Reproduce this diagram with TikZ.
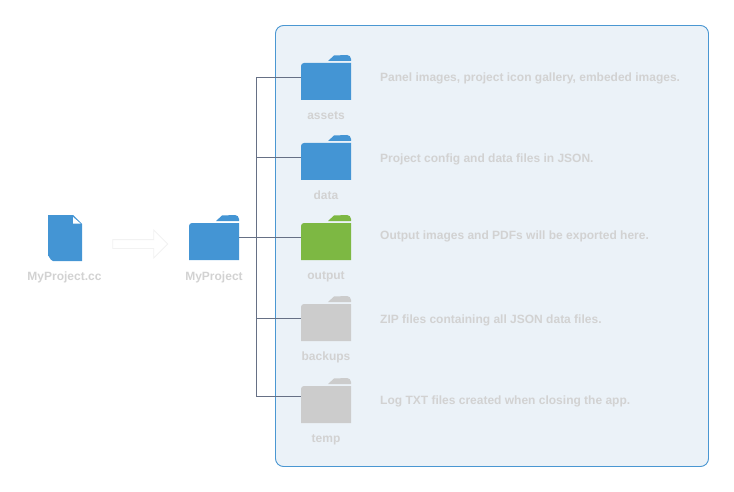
\documentclass[tikz,border=0pt]{standalone}
\usepackage{fontspec}
\setmainfont{Liberation Sans}
\usetikzlibrary{shapes.arrows}
\definecolor{iconblue}{HTML}{4495D4}
\definecolor{icongreen}{HTML}{7DB843}
\definecolor{icongray}{HTML}{CCCCCC}
\definecolor{panelfill}{HTML}{EBF2F8}
\definecolor{panelline}{HTML}{4A97D2}
\definecolor{wirecolor}{HTML}{667085}
\definecolor{labelgray}{HTML}{D2D2D2}
\tikzset{
  x=1pt,y=-1pt,
  caption/.style={font=\bfseries\fontsize{12}{14}\selectfont,text=labelgray,inner sep=0pt,anchor=base},
  note/.style={caption,anchor=base west},
  slot/.style={minimum width=50pt,minimum height=20pt,inner sep=0pt,outer sep=0pt},
  wire/.style={draw=wirecolor,line width=0.8pt},
  folder/.pic={
    \fill[pic actions] (27,6) -- (33,0.5) -- (46,0) to[out=0,in=90] (50,4) -- (50,6) -- cycle;
    \fill[pic actions] (0,45) -- (0,11) to[out=90,in=180] (3,8) -- (50,8) -- (50,45) -- cycle;
  }
}
\begin{document}
\begin{tikzpicture}
  \useasboundingbox (0,0) rectangle (734,492);
  \fill[panelfill,draw=panelline,line width=0.9pt,rounded corners=8pt] (275.5,25.5) rectangle (708.5,466.5);

  % file and project folder
  \fill[iconblue,rounded corners=0pt] (48,215) -- (73,215) -- (82,224) -- (82,261) -- (53,261) to[out=180,in=90] (48,256) -- cycle;
  \fill[white] (73,217) -- (73,223.5) -- (80.5,223.5) -- cycle;
  \node[caption] (filelabel) at (64.5,280) {MyProject.cc};
  \node[single arrow,draw=black!5,fill=white,line width=0.8pt,minimum height=55pt,minimum width=27pt,
    single arrow head extend=9.5pt,inner sep=4pt,outer sep=0pt] (move) at (138,244) {};
  \node[slot] (project) at (214,237) {};
  \pic[fill=iconblue] at (189,215) {folder};
  \node[caption] (projectlabel) at (214,280) {MyProject};

  % slots for the folders, at the height of their wires
  \node[slot] (assets) at (326,77) {};
  \node[slot] (data) at (326,157) {};
  \node[slot] (output) at (326,237) {};
  \node[slot] (backups) at (326,318) {};
  \node[slot] (temp) at (326,396) {};

  \coordinate (trunk) at (256,237);
  \begin{scope}[wire]
    \draw (project.east) to (output.west);
    \draw (trunk) |- (assets.west);
    \draw (trunk) |- (data.west);
    \draw (trunk) |- (backups.west);
    \draw (trunk) |- (temp.west);
  \end{scope}

  \pic[fill=iconblue] at (301,55) {folder};
  \pic[fill=iconblue] at (301,135) {folder};
  \pic[fill=icongreen] at (301,215) {folder};
  \pic[fill=icongray] at (301,296) {folder};
  \pic[fill=icongray] at (301,378) {folder};

  \node[caption] (assetslabel) at (326,120) {assets};
  \node[caption] (datalabel) at (326,200) {data};
  \node[caption] (outputlabel) at (326,279) {output};
  \node[caption] (backupslabel) at (326,360) {backups};
  \node[caption] (templabel) at (326,442) {temp};

  \node[note] (assetsnote) at (380,82) {Panel images, project icon gallery, embeded images.};
  \node[note] (datanote) at (380,163) {Project config and data files in JSON.};
  \node[note] (outputnote) at (380,239) {Output images and PDFs will be exported here.};
  \node[note] (backupsnote) at (380,323) {ZIP files containing all JSON data files.};
  \node[note] (tempnote) at (380,404) {Log TXT files created when closing the app.};
\end{tikzpicture}
\end{document}
